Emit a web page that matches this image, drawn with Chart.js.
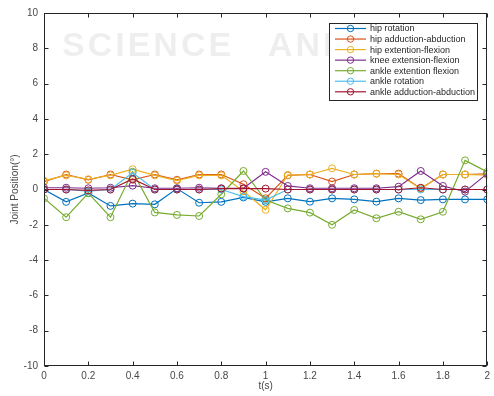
<!DOCTYPE html>
<html>
<head>
<meta charset="utf-8">
<script src="https://cdn.jsdelivr.net/npm/chart.js@4/dist/chart.umd.min.js"></script>
<style>
  html, body { margin: 0; padding: 0; background: #fff; }
  #wrap { width: 494px; height: 396px; }
</style>
</head>
<body>
<div id="wrap"><canvas id="c" width="494" height="396"></canvas></div>
<script>
// Sample times (s)
const times = [0, 0.1, 0.2, 0.3, 0.4, 0.5, 0.6, 0.7, 0.8, 0.9, 1.0, 1.1, 1.2, 1.3, 1.4, 1.5, 1.6, 1.7, 1.8, 1.9, 2.0];

// Joint positions (deg) per joint
const hipRotation          = [0, -0.7, -0.2, -0.93, -0.8, -0.84, 0.05, -0.75, -0.7, -0.45, -0.7, -0.5, -0.69, -0.5, -0.56, -0.69, -0.5, -0.6, -0.56, -0.56, -0.56];
const hipAdductionAbd      = [0.45, 0.85, 0.55, 0.85, 0.55, 0.85, 0.55, 0.85, 0.85, 0.3, -0.5, 0.8, 0.85, 0.45, 0.85, 0.9, 0.9, 0.05, 0.85, 0.85, 0.88];
const hipExtentionFlexion  = [0.5, 0.8, 0.58, 0.8, 1.15, 0.8, 0.5, 0.8, 0.8, -0.1, -1.15, 0.82, 0.85, 1.2, 0.85, 0.9, 0.85, 0.05, 0.85, 0.85, 0.82];
const kneeExtensionFlexion = [0.1, 0.1, 0.07, 0.1, 0.22, 0.07, 0.07, 0.1, 0.07, 0.07, 1.0, 0.2, 0.07, 0.07, 0.07, 0.07, 0.16, 1.05, 0.2, -0.12, 0.9];
const ankleExtentionFlex   = [-0.5, -1.57, -0.2, -1.57, 1.0, -1.3, -1.44, -1.5, -0.27, 1.05, -0.6, -1.07, -1.31, -2.0, -1.16, -1.63, -1.26, -1.69, -1.26, 1.65, 1.0];
const ankleRotation        = [0, 0, -0.1, 0, 0.95, 0, 0, 0, 0, -0.4, -0.6, 0, 0, 0, 0, 0, 0, 0, 0, 0, 0];
const ankleAdductionAbd    = [0, 0, -0.05, 0, 0.6, 0, 0, 0, 0.05, 0.05, 0.05, 0, 0, 0, 0, 0, 0, 0.1, 0, 0, 0];

const seriesNames = [
  'hip rotation',
  'hip adduction-abduction',
  'hip extention-flexion',
  'knee extension-flexion',
  'ankle extention flexion',
  'ankle rotation',
  'ankle adduction-abduction'
];
const seriesValues = [hipRotation, hipAdductionAbd, hipExtentionFlexion, kneeExtensionFlexion, ankleExtentionFlex, ankleRotation, ankleAdductionAbd];
const seriesColors = ['#0072BD', '#D95319', '#EDB120', '#7E2F8E', '#77AC30', '#4DBEEE', '#A2142F'];

// Axis ticks
const xTicks = [0, 0.2, 0.4, 0.6, 0.8, 1, 1.2, 1.4, 1.6, 1.8, 2];
const yTicks = [-10, -8, -6, -4, -2, 0, 2, 4, 6, 8, 10];

const FONT = '"Liberation Sans", Arial, Helvetica, sans-serif';
const TEXT_COLOR = '#484848';

const datasets = seriesValues.map((vals, i) => ({
  label: seriesNames[i],
  data: times.map((t, k) => ({ x: t, y: vals[k] })),
  borderColor: seriesColors[i],
  backgroundColor: seriesColors[i],
  borderWidth: 1.2,
  pointRadius: 3.5,
  pointHoverRadius: 3.5,
  pointBorderWidth: 1,
  pointBorderColor: seriesColors[i],
  pointBackgroundColor: 'rgba(255,255,255,0)',
  tension: 0,
  order: seriesValues.length - i
}));

// Background: white page plus faint watermark lettering
const backdrop = {
  id: 'backdrop',
  beforeDraw(chart) {
    const ctx = chart.ctx;
    ctx.save();
    ctx.fillStyle = '#ffffff';
    ctx.fillRect(0, 0, chart.width, chart.height);
    ctx.font = 'bold 34px ' + FONT;
    ctx.fillStyle = 'rgba(0,0,0,0.065)';
    ctx.textBaseline = 'alphabetic';
    try { ctx.letterSpacing = '3px'; } catch (e) {}
    ctx.fillText('SCIENCE', 62, 56);
    ctx.fillText('AND', 268, 56);
    ctx.restore();
  }
};

// Box frame with inward ticks on all four sides
const frame = {
  id: 'frame',
  afterDatasetsDraw(chart) {
    const { ctx, chartArea: a, scales } = chart;
    const L = Math.round(a.left) + 0.5, R = Math.round(a.right) - 0.5;
    const T = Math.round(a.top) + 0.5, B = Math.round(a.bottom) - 0.5;
    const len = 4;
    ctx.save();
    ctx.strokeStyle = '#262626';
    ctx.lineWidth = 1;
    ctx.strokeRect(L, T, R - L, B - T);
    ctx.beginPath();
    scales.x.ticks.forEach(t => {
      const px = Math.round(scales.x.getPixelForValue(t.value)) + 0.5;
      ctx.moveTo(px, B); ctx.lineTo(px, B - len);
      ctx.moveTo(px, T); ctx.lineTo(px, T + len);
    });
    scales.y.ticks.forEach(t => {
      const py = Math.round(scales.y.getPixelForValue(t.value)) + 0.5;
      ctx.moveTo(L, py); ctx.lineTo(L + len, py);
      ctx.moveTo(R, py); ctx.lineTo(R - len, py);
    });
    ctx.stroke();
    ctx.restore();
  }
};

// Boxed legend in the upper right of the plot area
const boxLegend = {
  id: 'boxLegend',
  afterDraw(chart) {
    const ctx = chart.ctx;
    const x0 = 329.5, y0 = 23.5, w = 148, h = 77;
    const rowH = 10.55, firstY = 28.5;
    ctx.save();
    ctx.fillStyle = '#ffffff';
    ctx.fillRect(x0, y0, w, h);
    ctx.strokeStyle = '#262626';
    ctx.lineWidth = 1;
    ctx.strokeRect(x0, y0, w, h);
    ctx.font = '9px ' + FONT;
    ctx.textBaseline = 'middle';
    ctx.textAlign = 'left';
    chart.data.datasets.forEach((ds, i) => {
      const y = firstY + i * rowH;
      ctx.strokeStyle = ds.borderColor;
      ctx.lineWidth = 1.2;
      ctx.beginPath();
      ctx.moveTo(335, y); ctx.lineTo(366, y);
      ctx.stroke();
      ctx.lineWidth = 1;
      ctx.beginPath();
      ctx.arc(350.5, y, 3.2, 0, Math.PI * 2);
      ctx.stroke();
      ctx.fillStyle = '#262626';
      ctx.fillText(ds.label, 370, y + 0.5);
    });
    ctx.restore();
  }
};

new Chart(document.getElementById('c'), {
  type: 'line',
  data: { datasets },
  plugins: [backdrop, frame, boxLegend],
  options: {
    responsive: false,
    animation: false,
    devicePixelRatio: 1,
    layout: { padding: { top: 13, right: 4, left: 0, bottom: 0 } },
    plugins: { legend: { display: false }, tooltip: { enabled: false } },
    scales: {
      x: {
        type: 'linear',
        min: 0, max: 2,
        afterBuildTicks: s => { s.ticks = xTicks.map(v => ({ value: v })); },
        afterFit: s => { s.height = 30; },
        grid: { display: false, drawTicks: false },
        border: { display: false },
        ticks: {
          padding: 4,
          maxRotation: 0,
          autoSkip: false,
          color: TEXT_COLOR,
          font: { family: FONT, size: 10 },
          callback: v => String(Math.round(v * 10) / 10)
        },
        title: {
          display: true,
          text: 't(s)',
          color: TEXT_COLOR,
          font: { family: FONT, size: 10 },
          padding: { top: 0, bottom: 4 }
        }
      },
      y: {
        type: 'linear',
        min: -10, max: 10,
        afterBuildTicks: s => { s.ticks = yTicks.map(v => ({ value: v })); },
        afterFit: s => { s.width = 44; },
        grid: { display: false, drawTicks: false },
        border: { display: false },
        ticks: {
          padding: 6,
          autoSkip: false,
          color: TEXT_COLOR,
          font: { family: FONT, size: 10 },
          callback: v => String(v)
        },
        title: {
          display: true,
          text: 'Joint Position(°)',
          color: TEXT_COLOR,
          font: { family: FONT, size: 10 },
          padding: { top: 9, bottom: 0 }
        }
      }
    }
  }
});
</script>
</body>
</html>
